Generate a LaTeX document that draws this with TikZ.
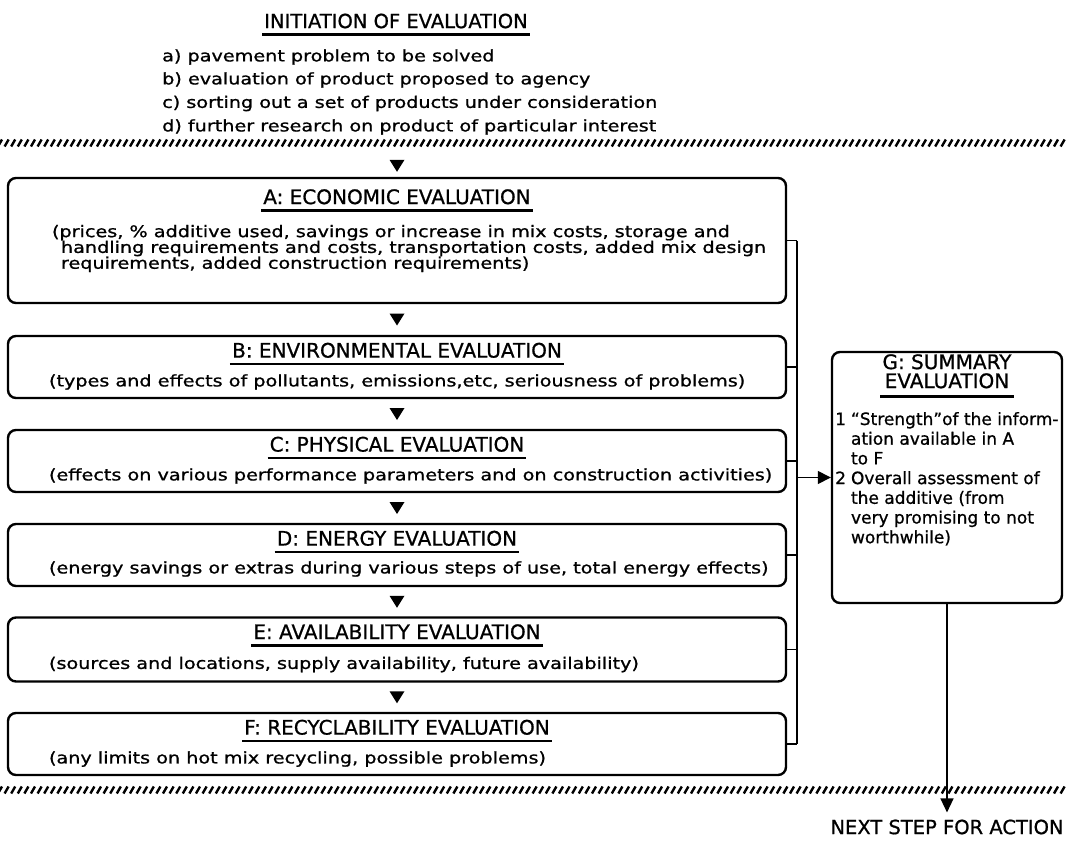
\documentclass[tikz,border=0pt]{standalone}
\usepackage{fontspec}
\setmainfont{DejaVu Sans}
\newfontfamily\bodyf{DejaVu Sans}[FakeStretch=1.2,FakeBold=1]
\newfontfamily\gfont{DejaVu Sans}[FakeBold=0.8]
\usetikzlibrary{arrows.meta,calc}
\newcommand\dtri[1]{\fill (#1) ++(-7.5,-6) -- ++(15,0) -- ++(-7.5,12) -- cycle;}
\newcommand\hatchline[1]{\foreach \i in {0,...,162}{\draw[line width=2.4pt] ({\i*6.6-2},{#1+3.5}) -- ({\i*6.6+2},{#1-3.5});}}
\tikzset{
  box/.style={draw, line width=2.4pt, rounded corners=8pt, inner sep=0pt},
  ttl/.style={font=\gfont\fontsize{20}{19}\selectfont, inner sep=0pt, align=center},
  bod/.style={font=\bodyf\fontsize{16}{15.8}\selectfont, inner sep=0pt, align=left},
  gtxt/.style={font=\gfont\fontsize{17}{19.7}\selectfont, inner sep=0pt},
  uline/.style={line width=2.4pt},
  conn/.style={line width=1.4pt},
}
\begin{document}
\begin{tikzpicture}[x=1pt,y=-1pt]
\useasboundingbox[fill=white] (0,0) rectangle (1066,846);

% initiation block
\node[ttl, font=\gfont\fontsize{19.5}{19}\selectfont] (tI) at (396,21) {INITIATION OF EVALUATION};
\draw[uline] ([xshift=-2pt,yshift=-6pt]tI.south west) -- ([xshift=2pt,yshift=-6pt]tI.south east);
\node[bod, anchor=west] (la) at (162,57) {a) pavement problem to be solved};
\node[bod, anchor=west] (lb) at (162,80) {b) evaluation of product proposed to agency};
\node[bod, anchor=west] (lc) at (162,103.5) {c) sorting out a set of products under consideration};
\node[bod, anchor=west] (ld) at (162,127) {d) further research on product of particular interest};

\hatchline{143}

% boxes
\node[box, minimum width=778pt, minimum height=125pt] (A) at (397,240.5) {};
\node[box, minimum width=778pt, minimum height=62pt] (B) at (397,367) {};
\node[box, minimum width=778pt, minimum height=62pt] (C) at (397,461) {};
\node[box, minimum width=778pt, minimum height=62pt] (D) at (397,555) {};
\node[box, minimum width=778pt, minimum height=64pt] (E) at (397,649.5) {};
\node[box, minimum width=778pt, minimum height=62pt] (F) at (397,744) {};
\node[box, minimum width=230pt, minimum height=251pt] (G) at (947,477.5) {};

% titles
\node[ttl] (tA) at ($(A.north)+(0,20)$) {A: ECONOMIC EVALUATION};
\node[ttl] (tB) at ($(B.north)+(0,15.5)$) {B: ENVIRONMENTAL EVALUATION};
\node[ttl] (tC) at ($(C.north)+(0,15.5)$) {C: PHYSICAL EVALUATION};
\node[ttl] (tD) at ($(D.north)+(0,15.5)$) {D: ENERGY EVALUATION};
\node[ttl] (tE) at ($(E.north)+(0,15.5)$) {E: AVAILABILITY EVALUATION};
\node[ttl] (tF) at ($(F.north)+(0,15.5)$) {F: RECYCLABILITY EVALUATION};
\foreach \t in {tA,tB,tC,tD,tE,tF}{
  \draw[uline] ([xshift=-2pt,yshift=-6pt]\t.south west) -- ([xshift=2pt,yshift=-6pt]\t.south east);
}

% bodies
\node[bod, anchor=west] (bA) at ($(A.west)+(45,8)$) {(prices, \% additive used, savings or increase in mix costs, storage and\\
\hspace*{9pt}handling requirements and costs, transportation costs, added mix design\\
\hspace*{9pt}requirements, added construction requirements)};
\node[bod, anchor=west] (bB) at ($(B.west)+(42,15)$) {(types and effects of pollutants, emissions,etc, seriousness of problems)};
\node[bod, anchor=west] (bC) at ($(C.west)+(42,15)$) {(effects on various performance parameters and on construction activities)};
\node[bod, anchor=west] (bD) at ($(D.west)+(42,14)$) {(energy savings or extras during various steps of use, total energy effects)};
\node[bod, anchor=west] (bE) at ($(E.west)+(42,15)$) {(sources and locations, supply availability, future availability)};
\node[bod, anchor=west] (bF) at ($(F.west)+(42,15)$) {(any limits on hot mix recycling, possible problems)};

% flow triangles
\coordinate (t0) at ($(A.north)+(0,-11)$);
\coordinate (t1) at ($(A.south)!0.5!(B.north)$);
\coordinate (t2) at ($(B.south)!0.5!(C.north)$);
\coordinate (t3) at ($(C.south)!0.5!(D.north)$);
\coordinate (t4) at ($(D.south)!0.5!(E.north)$);
\coordinate (t5) at ($(E.south)!0.5!(F.north)$);
\foreach \c in {t0,t1,t2,t3,t4,t5}{\dtri{\c}}

% bus to summary
\coordinate (bx) at (797,0);
\foreach \n in {A,B,C,D,E,F}{\draw[conn] (\n.east) -- (\n.east -| bx);}
\draw[conn] (A.east -| bx) -- (F.east -| bx);
\draw[conn,-{Triangle[length=13pt,width=13pt]}] (G.west -| bx) -- (G.west);

% G contents
\node[ttl] (tG) at ($(G.north)+(0,20.5)$) {G: SUMMARY\\EVALUATION};
\draw[uline] ([xshift=-2pt,yshift=-8pt]tG.south west) -- ([xshift=2pt,yshift=-8pt]tG.south east);
\node[gtxt, anchor=base west] (gI) at (835,425) {\begin{tabular}[t]{@{}l@{\hspace{5pt}}l@{}}
1 & “Strength”of the inform-\\
  & ation available in A\\
  & to F\\
2 & Overall assessment of\\
  & the additive (from\\
  & very promising to not\\
  & worthwhile)
\end{tabular}};

\hatchline{790}

% next step
\node[ttl, font=\gfont\fontsize{19.5}{19}\selectfont] (nx) at (947,827) {NEXT STEP FOR ACTION};
\draw[conn,-{Triangle[length=14pt,width=13pt]}] (G.south) -- ([yshift=7pt]nx.north);
\end{tikzpicture}
\end{document}
